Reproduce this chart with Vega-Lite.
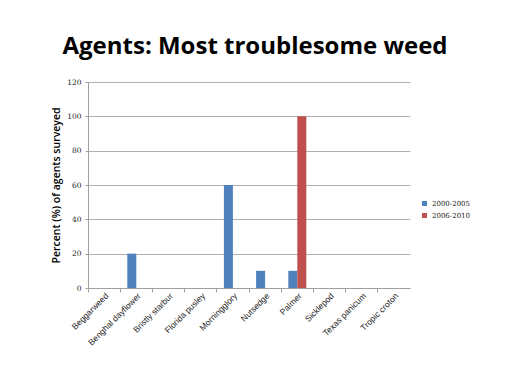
{
  "$schema": "https://vega.github.io/schema/vega-lite/v6.json",
  "width": 322,
  "height": 206,
  "autosize": {"type": "none"},
  "padding": {"left": 88, "top": 82, "right": 102, "bottom": 96},
  "background": "white",
  "title": {"text": "Agents: Most troublesome weed", "font": "Open Sans", "fontSize": 24, "fontWeight": "bold", "color": "black", "anchor": "middle", "dx": 6, "offset": 19},
  "data": {"values": [
    {"weed": "Beggarweed", "period": "2000-2005", "pct": 0},
    {"weed": "Benghal dayflower", "period": "2000-2005", "pct": 20},
    {"weed": "Bristly starbur", "period": "2000-2005", "pct": 0},
    {"weed": "Florida pusley", "period": "2000-2005", "pct": 0},
    {"weed": "Morningglory", "period": "2000-2005", "pct": 60},
    {"weed": "Nutsedge", "period": "2000-2005", "pct": 10},
    {"weed": "Palmer", "period": "2000-2005", "pct": 10},
    {"weed": "Palmer", "period": "2006-2010", "pct": 100},
    {"weed": "Sicklepod", "period": "2000-2005", "pct": 0},
    {"weed": "Texas panicum", "period": "2000-2005", "pct": 0},
    {"weed": "Tropic croton", "period": "2000-2005", "pct": 0}
  ]},
  "config": {"view": {"stroke": null}},
  "layer": [
    {
      "mark": {"type": "bar"},
      "encoding": {
        "x": {"field": "weed", "type": "nominal", "sort": null,
          "scale": {"paddingInner": 0, "paddingOuter": 0},
          "axis": {"orient": "bottom", "title": null, "labelAngle": -45, "labelFont": "Liberation Sans", "labelFontSize": 8.5, "labelColor": "#222", "ticks": false, "domainColor": "#a0a0a0", "labelPadding": 3, "labelOverlap": false}},
        "xOffset": {"field": "period", "type": "nominal", "scale": {"domain": ["2000-2005", "2006-2010"], "paddingOuter": 0.79, "paddingInner": 0}},
        "y": {"field": "pct", "type": "quantitative",
          "scale": {"domain": [0, 120]},
          "axis": {"values": [0, 20, 40, 60, 80, 100, 120], "labelOverlap": false, "labelFlush": false, "title": "Percent (%) of agents surveyed", "titleFont": "Open Sans", "titleFontSize": 10.5, "titleFontWeight": 600, "titleColor": "black", "titlePadding": 5, "labelFont": "DejaVu Serif", "labelFontSize": 7.5, "labelColor": "#222", "tickSize": 3, "tickColor": "#a0a0a0", "domainColor": "#a0a0a0", "gridColor": "#b0b0b0", "labelPadding": 4}},
        "color": {"field": "period", "type": "nominal",
          "scale": {"domain": ["2000-2005", "2006-2010"], "range": ["#4F81BD", "#C0504D"]},
          "legend": {"title": null, "orient": "none", "legendX": 333, "legendY": 118, "symbolType": "square", "symbolSize": 25, "labelFont": "DejaVu Serif", "labelFontSize": 7, "labelColor": "#222", "rowPadding": 4, "symbolStrokeWidth": 0}}
      }
    },
    {
      "mark": {"type": "bar", "opacity": 0},
      "encoding": {
        "x": {"field": "weed", "type": "nominal", "sort": null,
          "axis": {"orient": "bottom", "title": null, "labels": false, "domain": false, "ticks": true, "tickSize": 4, "tickColor": "#a0a0a0", "bandPosition": 0}},
        "y": {"field": "pct", "type": "quantitative", "axis": null}
      }
    }
  ],
  "resolve": {"axis": {"x": "independent", "y": "independent"}}
}
